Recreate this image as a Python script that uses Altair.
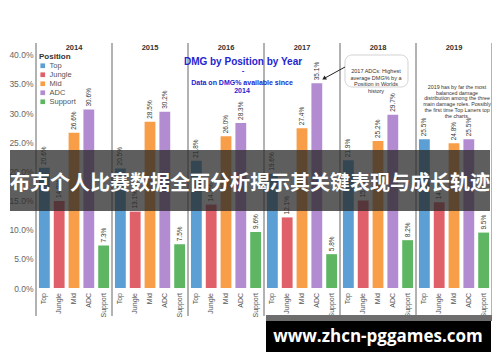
import altair as alt
import pandas as pd

years = ["2014", "2015", "2016", "2017", "2018", "2019"]
positions = ["Top", "Jungle", "Mid", "ADC", "Support"]
top_dmg = [20.6, 20.5, 21.8, 19.6, 21.9, 25.5]
jungle_dmg = [14.9, 13.1, 14.3, 12.1, 15.0, 14.7]
mid_dmg = [26.6, 28.5, 26.0, 27.4, 25.2, 24.8]
adc_dmg = [30.6, 30.2, 28.3, 35.1, 29.7, 25.5]
support_dmg = [7.3, 7.5, 9.6, 5.8, 8.2, 9.5]
colors = ["#5b9fd4", "#e0606a", "#f89e48", "#b38bd0", "#5fb662"]
y_ticks = [0, 5, 10, 15, 20, 25, 30, 35, 40]

title_lines = ["DMG by Position by Year"]
subtitle_lines = ["Data on DMG% available since", "2014"]
adc_note = ["2017 ADCs: Highest", "average DMG% by a", "Position in Worlds", "history"]
note_2019 = ["2019 has by far the most", "balanced damage", "distribution among the three",
             "main damage roles. Possibly", "the first time Top Laners top", "the charts."]
banner_text = "布克个人比赛数据全面分析揭示其关键表现与成长轨迹"
watermark_text = "www.zhcn-pggames.com"

series = {"Top": top_dmg, "Jungle": jungle_dmg, "Mid": mid_dmg, "ADC": adc_dmg, "Support": support_dmg}
rows = []
for p in positions:
    for yr, v in zip(years, series[p]):
        rows.append({"year": yr, "position": p, "dmg": v})
df = pd.DataFrame(rows)

FONT = "Liberation Sans"

x_enc = alt.X("year:N", sort=years, scale=alt.Scale(paddingInner=0, paddingOuter=0), axis=None)
xo_enc = alt.XOffset("position:N", sort=positions,
                     scale=alt.Scale(paddingInner=0.27, paddingOuter=0.2))
y_enc = alt.Y("dmg:Q", scale=alt.Scale(domain=[0, 42], nice=False),
              axis=alt.Axis(values=y_ticks, labelExpr="format(datum.value, '.1f') + '%'",
                            labelOverlap=False,
                            title="DMG%", titleFontSize=6, titleColor="#999", titleFontWeight="normal",
                            titleX=-29, titleY=118, titleAngle=270,
                            labelColor="#666", labelFontSize=8.5, labelFont=FONT, labelPadding=3,
                            ticks=False, domain=False, grid=False))

base = alt.Chart(df)

bars = base.mark_bar().encode(
    x=x_enc, xOffset=xo_enc, y=y_enc,
    color=alt.Color("position:N", sort=positions,
                    scale=alt.Scale(domain=positions, range=colors),
                    legend=alt.Legend(title="Position", orient="none", legendX=3, legendY=10,
                                      symbolType="square", symbolSize=22, symbolStrokeWidth=0,
                                      labelFontSize=7.5, titleFontSize=8, rowPadding=0,
                                      labelColor="#555", titleColor="#333", labelOffset=3,
                                      titlePadding=1, labelFont=FONT, titleFont=FONT)),
)

bar_labels = base.transform_calculate(lab="format(datum.dmg, '.1f') + '%'").mark_text(
    angle=270, align="left", baseline="middle", dx=3, fontSize=6.5, color="#333", font=FONT
).encode(x=x_enc, xOffset=xo_enc, y=y_enc, text="lab:N")

pos_labels = base.mark_text(
    angle=270, align="right", baseline="middle", fontSize=7, color="#555", font=FONT
).encode(x=x_enc, xOffset=xo_enc, y=alt.value(250), text="position:N")

year_df = pd.DataFrame({"year": years})
year_labels = alt.Chart(year_df).mark_text(
    fontSize=7.5, fontWeight="bold", color="#333", font=FONT, baseline="middle"
).encode(x=x_enc, y=alt.value(5), text="year:N")

sep_left = alt.Chart(year_df).mark_rule(color="#666", strokeWidth=1).encode(
    x=alt.X("year:N", sort=years, bandPosition=0, scale=alt.Scale(paddingInner=0, paddingOuter=0), axis=None),
    y=alt.value(0), y2=alt.value(273))
sep_right = alt.Chart(pd.DataFrame({"year": years[-1:]})).mark_rule(color="#666", strokeWidth=1).encode(
    x=alt.X("year:N", sort=years, bandPosition=1, scale=alt.Scale(paddingInner=0, paddingOuter=0), axis=None),
    y=alt.value(0), y2=alt.value(273))

one = pd.DataFrame({"k": [0]})
ov = alt.Chart(one)

title_txt = ov.mark_text(fontSize=10, fontWeight="bold", color="#2525d0", font=FONT).encode(
    x=alt.value(207), y=alt.value(19), text=alt.value(title_lines[0]))
dash_txt = ov.mark_text(fontSize=8, fontWeight="bold", color="#2525d0", font=FONT).encode(
    x=alt.value(207), y=alt.value(28), text=alt.value("-"))
sub_txt = ov.mark_text(fontSize=7, fontWeight="bold", color="#2525d0", font=FONT,
                       lineBreak="\n", lineHeight=8).encode(
    x=alt.value(206), y=alt.value(40), text=alt.value("\n".join(subtitle_lines)))

adc_box = ov.mark_rect(fill="white", stroke="#c8c8c8", strokeWidth=0.8, cornerRadius=7).encode(
    x=alt.value(309), x2=alt.value(372), y=alt.value(12), y2=alt.value(44))
adc_txt = ov.mark_text(fontSize=5.5, color="#333", font=FONT, lineBreak="\n", lineHeight=6.6).encode(
    x=alt.value(340), y=alt.value(28), text=alt.value("\n".join(adc_note)))
arrow_line = ov.mark_rule(color="#222", strokeWidth=1).encode(
    x=alt.value(309), x2=alt.value(289), y=alt.value(24), y2=alt.value(35))
arrow_head = ov.mark_point(shape="triangle-up", filled=True, color="#222", size=22, angle=239, opacity=1).encode(
    x=alt.value(288), y=alt.value(35.5))

note19_txt = ov.mark_text(fontSize=5.3, color="#333", font=FONT, lineBreak="\n", lineHeight=5.7).encode(
    x=alt.value(421), y=alt.value(44), text=alt.value("\n".join(note_2019)))

banner = ov.mark_rect(color="#282828", opacity=0.75).encode(
    x=alt.value(-26), x2=alt.value(454), y=alt.value(107), y2=alt.value(168))
banner_txt = ov.mark_text(font="Noto Sans CJK SC", fontWeight="bold", fontSize=20, color="white",
                          baseline="middle").encode(
    x=alt.value(214), y=alt.value(141), text=alt.value(banner_text))

wm_strip = ov.mark_rect(color="#6e6e6e").encode(
    x=alt.value(230), x2=alt.value(456), y=alt.value(272), y2=alt.value(278))
wm_box = ov.mark_rect(color="#000000").encode(
    x=alt.value(230), x2=alt.value(455), y=alt.value(278), y2=alt.value(309))
wm_txt = ov.mark_text(font="Open Sans", fontWeight="bold", fontSize=17, color="white",
                      baseline="middle").encode(
    x=alt.value(342), y=alt.value(294), text=alt.value(watermark_text))

chart = alt.layer(
    bars, bar_labels, pos_labels, year_labels, sep_left, sep_right,
    title_txt, dash_txt, sub_txt, adc_box, adc_txt, arrow_line, arrow_head, note19_txt,
    banner, banner_txt, wm_strip, wm_box, wm_txt
).properties(
    width=456, height=245,
    padding={"left": 28, "top": 35, "right": 0, "bottom": 66},
    autosize=alt.AutoSizeParams(type="none"),
    background="white",
).configure_view(stroke=None)

chart.save("out.html", embed_options={"renderer": "svg", "actions": False})
